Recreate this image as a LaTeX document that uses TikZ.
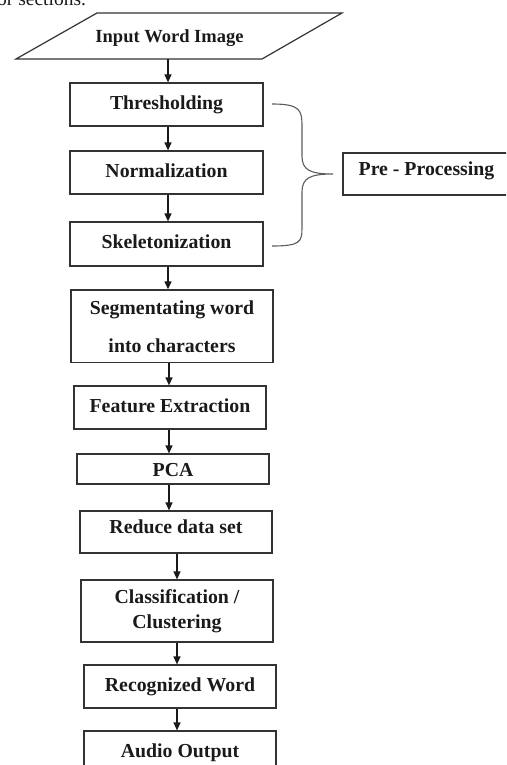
\documentclass[tikz,border=0pt]{standalone}
\usepackage{fontspec}
\setmainfont{Liberation Serif}
\usetikzlibrary{arrows.meta}
\definecolor{ink}{HTML}{1A1A1A}
\definecolor{frame}{HTML}{333333}
\begin{document}
\begin{tikzpicture}[x=1pt,y=-1pt,
  lbl/.style={font=\fontsize{19.8}{23}\selectfont\bfseries, text=ink, inner sep=2pt},
  box/.style={lbl, draw=frame, line width=1.2pt, align=center},
  one/.style={text height=14pt, text depth=4.5pt},
  arr/.style={draw=ink, line width=1.2pt, -{Triangle[length=8pt,width=7pt]}},
  brace/.style={draw=frame!80, line width=1.1pt}]
\path[use as bounding box] (0,0) rectangle (506,765);
\clip (0,0) rectangle (506,765);
% partial running text at the top
\node[anchor=base west, font=\fontsize{19.5}{23}\selectfont, text=ink, inner sep=0pt] (cut) at (-3,5.5) {or sections.};
% input parallelogram
\draw[frame, line width=1.2pt] (97,13) -- (342,13) -- (262,59) -- (16,59) -- cycle;
\node[lbl, font=\fontsize{18.5}{22}\selectfont\bfseries, text height=13pt, text depth=4pt] (inp) at (169.5,38) {Input Word Image};
\coordinate (inbot) at (168,59);
% boxes
\node[box, one, minimum width=193pt, minimum height=43pt] (thr) at (166.5,104.5) {Thresholding};
\node[box, one, minimum width=193pt, minimum height=43pt] (nor) at (166.5,172.5) {Normalization};
\node[box, one, minimum width=193pt, minimum height=44pt] (ske) at (166.5,244) {Skeletonization};
\node[box, minimum width=202pt, minimum height=72.7pt] (seg) at (172,326.3) {Segmentating word\\[15pt] into characters};
\node[box, one, minimum width=192pt, minimum height=43pt] (fea) at (170,407.5) {Feature Extraction};
\node[box, text height=14pt, text depth=0pt, minimum width=192pt, minimum height=30pt] (pca) at (173,469) {PCA};
\node[box, text height=14pt, text depth=11pt, minimum width=192pt, minimum height=42pt] (red) at (176,532) {Reduce data set};
\node[box, minimum width=192pt, minimum height=62pt] (cla) at (177,611) {Classification /\\[2pt] Clustering};
\node[box, one, minimum width=192pt, minimum height=43pt] (rec) at (180,686.5) {Recognized Word};
\node[box, one, minimum width=192pt, minimum height=43pt] (aud) at (180,752.5) {Audio Output};
\node[box, text height=14pt, text depth=11pt, minimum width=167pt, minimum height=42pt] (pre) at (426.5,174) {Pre - Processing};
% x positions of the arrows
\coordinate (xa) at (168,0);
\coordinate (xb) at (169,0);
\coordinate (xc) at (177,0);
\draw[arr] (inbot) -- (thr.north -| xa);
\draw[arr] (thr.south -| xa) -- (nor.north -| xa);
\draw[arr] (nor.south -| xa) -- (ske.north -| xa);
\draw[arr] (ske.south -| xa) -- (seg.north -| xa);
\draw[arr] (seg.south -| xb) -- (fea.north -| xb);
\draw[arr] (fea.south -| xb) -- (pca.north -| xb);
\draw[arr] (pca.south -| xb) -- (red.north -| xb);
\draw[arr] (red.south -| xc) -- (cla.north -| xc);
\draw[arr] (cla.south -| xc) -- (rec.north -| xc);
\draw[arr] (rec.south -| xc) -- (aud.north -| xc);
% brace
\coordinate (btop) at (272,104);
\coordinate (btip) at (333,174);
\coordinate (bbot) at (272,246);
\draw[brace] (btop) .. controls (300,104) and (302,110) .. (302,126) -- (302,156)
  .. controls (302,170) and (310,174) .. (btip)
  .. controls (310,174) and (302,178) .. (302,192) -- (302,228)
  .. controls (302,242) and (300,246) .. (bbot);
\end{tikzpicture}
\end{document}
